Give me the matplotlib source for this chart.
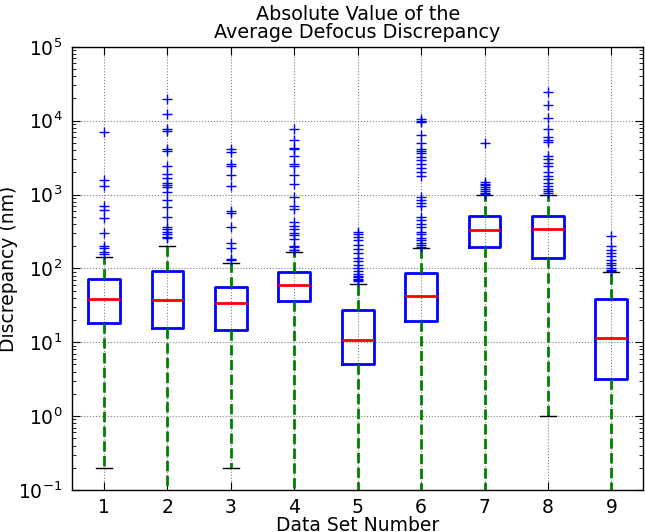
import matplotlib
matplotlib.use("Agg")
import matplotlib.pyplot as plt
import numpy as np
from matplotlib.ticker import LogLocator, NullFormatter

positions = [1, 2, 3, 4, 5, 6, 7, 8, 9]
labels = ["1", "2", "3", "4", "5", "6", "7", "8", "9"]
q1 = [18, 15.7, 14.8, 35.8, 5.1, 19.4, 193, 138, 3.17]
med = [38, 37, 33.6, 59, 10.8, 42, 331, 342, 11.3]
q3 = [72, 92, 56.6, 90, 27, 86, 518, 518, 38]
whislo = [0.2, 0.01, 0.2, 0.01, 0.01, 0.01, 0.01, 1.0, 0.01]
whishi = [141, 203, 118, 168, 61, 187, 988, 1000, 88.6]
fliers = [
    [7100, 1550, 1320, 690, 625, 485, 300, 203, 187, 167, 157],
    [19800, 12400, 7800, 7300, 4200, 3900, 2400, 1900, 1700, 1450, 1350, 1250, 1070,
     850, 670, 490, 360, 340, 310, 290, 270, 260],
    [4150, 3730, 2600, 2460, 1860, 1320, 605, 565, 360, 219, 187, 134, 128],
    [7600, 5500, 4300, 4100, 3370, 2600, 2450, 1860, 1390, 920, 705, 640, 430, 380,
     340, 300, 280, 250, 199, 195, 180, 175],
    [307, 290, 270, 240, 210, 185, 160, 140, 125, 110, 100, 92, 85, 80, 76, 72, 70, 68],
    [10500, 10000, 9500, 6400, 5000, 4100, 3900, 3700, 3200, 2900, 2600, 2300, 2000,
     1800, 920, 850, 780, 700, 500, 450, 400, 360, 310, 290, 260, 240, 220, 205, 195],
    [4950, 1480, 1400, 1330, 1250, 1180, 1120, 1060, 1020],
    [24300, 16300, 10800, 7700, 6000, 5500, 5100, 3300, 3000, 2700, 2450, 2000, 1800,
     1600, 1450, 1300, 1200, 1100, 1050],
    [277, 200, 180, 160, 145, 130, 120, 110, 100, 95, 92],
]

stats = []
for i in range(len(positions)):
    stats.append(dict(med=med[i], q1=q1[i], q3=q3[i], whislo=whislo[i],
                      whishi=whishi[i], fliers=np.array(fliers[i]), label=labels[i]))

fig = plt.figure(figsize=(6.45, 5.32), dpi=100)
ax = fig.add_axes([0.112, 0.079, 0.885, 0.833])

ax.bxp(stats, positions=positions, widths=0.5, showfliers=True,
       boxprops=dict(color="blue", linewidth=2),
       medianprops=dict(color="red", linewidth=2),
       whiskerprops=dict(color="green", linewidth=2, linestyle="--"),
       capprops=dict(color="black", linewidth=1),
       flierprops=dict(marker="+", markeredgecolor="blue", markersize=7,
                       markeredgewidth=1, linestyle="none"))

ax.set_yscale("log")
ax.set_ylim(0.1, 1e5)
ax.set_xlim(0.5, 9.5)
ax.set_xticks(positions)
ax.set_xticklabels(labels)
ax.yaxis.set_major_locator(LogLocator(base=10, numticks=10))
ax.yaxis.set_minor_locator(LogLocator(base=10, subs=np.arange(2, 10), numticks=100))
ax.yaxis.set_minor_formatter(NullFormatter())
ax.grid(True, which="major", linestyle=":", color="gray", linewidth=0.8)
ax.tick_params(axis="both", which="both", direction="in", top=True, right=True,
               labelsize=13.5)
ax.tick_params(axis="both", which="major", length=6)
ax.tick_params(axis="y", which="major", pad=7)
ax.tick_params(axis="x", which="major", pad=6)
ax.tick_params(axis="y", which="minor", length=3)
for s in ax.spines.values():
    s.set_linewidth(1)

ax.set_title("Absolute Value of the\nAverage Defocus Discrepancy", fontsize=13.8,
             linespacing=0.95, pad=6)
ax.set_xlabel("Data Set Number", fontsize=13.5, labelpad=-1)
ax.set_ylabel("Discrepancy (nm)", fontsize=13.5)
ax.yaxis.set_label_coords(-0.095, 0.5)

fig.savefig("out.png", dpi=100)
